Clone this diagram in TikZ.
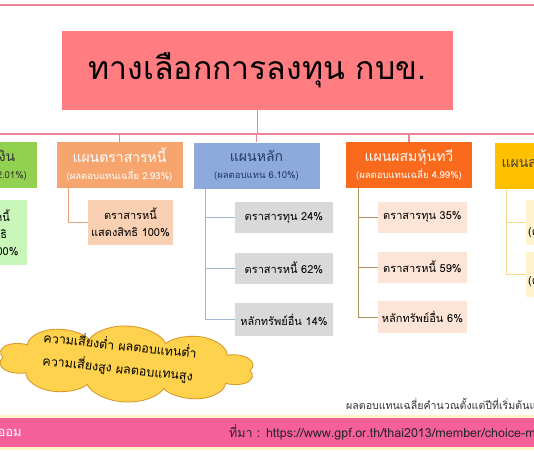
\documentclass[tikz,border=0pt]{standalone}
\usepackage{fontspec}
\setmainfont{Loma}[Script=Thai]
\usetikzlibrary{shapes.symbols}

\definecolor{titlepink}{HTML}{FF7C80}
\definecolor{buspink}{HTML}{EC8497}
\definecolor{moneygreen}{HTML}{92D050}
\definecolor{moneysub}{HTML}{C8F7B9}
\definecolor{bondorange}{HTML}{F7A56E}
\definecolor{bondsub}{HTML}{F9D0B2}
\definecolor{bondlink}{HTML}{E9A27C}
\definecolor{mainblue}{HTML}{8EA9DB}
\definecolor{mainsub}{HTML}{D9D9D9}
\definecolor{mainlink}{HTML}{9DB8DC}
\definecolor{maintext}{HTML}{1F3A64}
\definecolor{mixorange}{HTML}{FA6A1C}
\definecolor{mixsub}{HTML}{FCE4D6}
\definecolor{mixlink}{HTML}{B0915F}
\definecolor{lifeyellow}{HTML}{FFC000}
\definecolor{lifesub}{HTML}{FFF2CC}
\definecolor{lifelink}{HTML}{F3DC8E}
\definecolor{cloudfill}{HTML}{FFD24E}
\definecolor{cloudline}{HTML}{D99A2C}
\definecolor{bandpink}{HTML}{F5609A}
\definecolor{bandyellow}{HTML}{FFF3C8}

\newcommand\planret[1]{{\fontsize{9.5}{11}\selectfont #1}}

\begin{document}
\begin{tikzpicture}[x=1pt, y=-1pt,
    planbox/.style={minimum width=126pt, minimum height=46pt, inner sep=0pt,
        align=center, font=\fontsize{14}{17}\selectfont},
    subbox/.style={minimum height=31pt, inner sep=0pt, align=center,
        font=\fontsize{11}{17}\selectfont},
    busline/.style={buspink, line width=1.2pt},
    link/.style={line width=0.8pt}]

    % Frame of the picture
    \useasboundingbox (0,0) rectangle (534,450);
    \clip (0,0) rectangle (534,450);
    \fill[white] (0,0) rectangle (534,450);

    % Pink rule on top
    \draw[buspink, line width=1.5pt] (0,5) -- (534,5);

    % Title
    \node[fill=titlepink, minimum width=391pt, minimum height=79pt, inner sep=0pt,
        font=\fontsize{32}{34}\selectfont] (title) at (257.5,70.5) {ทางเลือกการลงทุน กบข.};

    % Plans - one box per choice
    \node[planbox, fill=moneygreen, text=black!80] (pMoney) at (-26,165)
        {แผนตลาดเงิน\\ \planret{(ผลตอบแทนเฉลี่ย 2.01\%)}};
    \node[planbox, fill=bondorange, text=white] (pBond) at (119.5,165)
        {แผนตราสารหนี้\\ \planret{(ผลตอบแทนเฉลี่ย 2.93\%)}};
    \node[planbox, fill=mainblue, text=maintext] (pMain) at (256.5,165.5)
        {แผนหลัก\\ \planret{(ผลตอบแทน 6.10\%)}};
    \node[planbox, fill=mixorange, text=white] (pMix) at (409,165)
        {แผนผสมหุ้นทวี\\ \planret{(ผลตอบแทนเฉลี่ย 4.99\%)}};
    \node[planbox, fill=lifeyellow, text=black!75] (pLife) at (558,165.5)
        {แผนสมดุลตามอายุ};

    % Bus from the title down to the plans
    \coordinate (busL) at (0,134);
    \coordinate (busR) at (534,134);
    \draw[busline] (busL) -- (busR);
    \draw[busline] (title.south) -- (title.south |- busL);
    \foreach \p in {pBond,pMain,pMix}
        \draw[busline] (\p.north) -- (\p.north |- busL);

    % Plan - money market
    \node[subbox, fill=moneysub, minimum width=87pt, minimum height=65pt] (sMoney) at (-16.5,232.5)
        {ตราสารหนี้\\แสดงสิทธิ\\ระยะสั้น 100\%};

    % Plan - bonds
    \node[subbox, fill=bondsub, minimum width=85pt, minimum height=45pt] (sBond) at (130.5,222.5)
        {ตราสารหนี้\\แสดงสิทธิ 100\%};
    \draw[link, bondlink] ([xshift=12pt]pBond.south west) |- (sBond.west);

    % Plan - main
    \node[subbox, fill=mainsub, minimum width=98pt] (sMain1) at (284,217.5) {ตราสารทุน 24\%};
    \node[subbox, fill=mainsub, minimum width=98pt] (sMain2) at (284,268) {ตราสารหนี้ 62\%};
    \node[subbox, fill=mainsub, minimum width=98pt, minimum height=33pt] (sMain3) at (284,319.5) {หลักทรัพย์อื่น 14\%};
    \foreach \s in {sMain1,sMain2,sMain3}
        \draw[link, mainlink] ([xshift=12pt]pMain.south west) |- (\s.west);

    % Plan - mixed
    \node[subbox, fill=mixsub, minimum width=89pt] (sMix1) at (422.5,217) {ตราสารทุน 35\%};
    \node[subbox, fill=mixsub, minimum width=89pt] (sMix2) at (422.5,267) {ตราสารหนี้ 59\%};
    \node[subbox, fill=mixsub, minimum width=89pt, minimum height=32pt] (sMix3) at (422.5,317) {หลักทรัพย์อื่น 6\%};
    \foreach \s in {sMix1,sMix2,sMix3}
        \draw[link, mixlink] ([xshift=13pt]pMix.south west) |- (\s.west);

    % Plan - life path
    \node[subbox, fill=lifesub, minimum width=90pt, minimum height=45pt, align=left,
        text width=86pt, inner xsep=2pt, anchor=west] (sLife1) at (526,222.5)
        {\hspace*{12pt}ตราสารหนี้\\(ตามช่วงอายุ)};
    \node[subbox, fill=lifesub, minimum width=90pt, minimum height=45pt, align=left,
        text width=86pt, inner xsep=2pt, anchor=west] (sLife2) at (526,274.5)
        {\hspace*{12pt}ตราสารทุน\\(ตามช่วงอายุ)};
    \foreach \s in {sLife1,sLife2}
        \draw[link, lifelink] ([xshift=12pt]pLife.south west) |- (\s.west);

    % Cloud with the rule of thumb
    \begin{scope}[shift={(126.5,364)}, rotate=-3, xscale=1.9]
        \node[cloud, cloud puffs=10, aspect=1.75, fill=cloudfill, draw=cloudline,
            line width=0.9pt, minimum width=135pt, minimum height=76pt, inner sep=0pt,
            transform shape] (risk) at (0,0) {};
    \end{scope}
    \node[rotate=-6, align=center, inner sep=0pt, font=\fontsize{12.5}{23}\selectfont] (riskText)
        at (119,357) {ความเสี่ยงต่ำ ผลตอบแทนต่ำ\\ความเสี่ยงสูง ผลตอบแทนสูง};

    % Note under the plans
    \node[anchor=west, text=black!80, inner sep=0pt, font=\fontsize{10.6}{12}\selectfont] (note) at (346,404)
        {ผลตอบแทนเฉลี่ยคำนวณตั้งแต่ปีที่เริ่มต้นแผน};

    % Band at the bottom
    \fill[bandyellow] (0,415) rectangle (534,450);
    \fill[bandpink] (0,418) rectangle (534,447);
    \node[anchor=east, text=white, inner sep=0pt, font=\fontsize{13}{15}\selectfont] (saving) at (22,433) {ออม};
    \node[anchor=west, text=black!85, inner sep=0pt, font=\fontsize{12.5}{14}\selectfont] (source) at (229,432)
        {ที่มา : https://www.gpf.or.th/thai2013/member/choice-mix};

\end{tikzpicture}
\end{document}
